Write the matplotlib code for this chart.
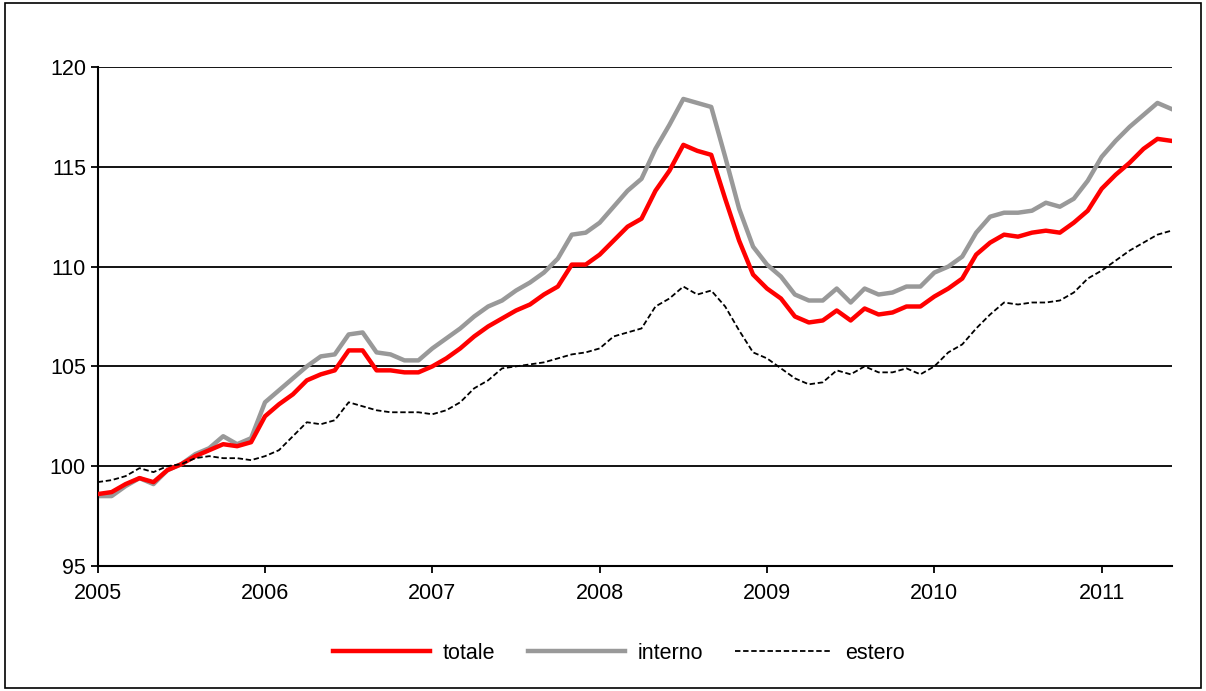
import numpy as np
import matplotlib.pyplot as plt
from matplotlib.patches import Rectangle

plt.rcParams["font.family"] = ["Liberation Sans", "DejaVu Sans"]

totale = [98.6, 98.7, 99.1, 99.4, 99.2, 99.8, 100.1, 100.5, 100.8, 101.1, 101.0, 101.2,
          102.5, 103.1, 103.6, 104.3, 104.6, 104.8, 105.8, 105.8, 104.8, 104.8, 104.7, 104.7,
          105.0, 105.4, 105.9, 106.5, 107.0, 107.4, 107.8, 108.1, 108.6, 109.0, 110.1, 110.1,
          110.6, 111.3, 112.0, 112.4, 113.8, 114.8, 116.1, 115.8, 115.6, 113.4, 111.3, 109.6,
          108.9, 108.4, 107.5, 107.2, 107.3, 107.8, 107.3, 107.9, 107.6, 107.7, 108.0, 108.0,
          108.5, 108.9, 109.4, 110.6, 111.2, 111.6, 111.5, 111.7, 111.8, 111.7, 112.2, 112.8,
          113.9, 114.6, 115.2, 115.9, 116.4, 116.3]
interno = [98.5, 98.5, 99.0, 99.4, 99.1, 99.8, 100.1, 100.6, 100.9, 101.5, 101.1, 101.4,
           103.2, 103.8, 104.4, 105.0, 105.5, 105.6, 106.6, 106.7, 105.7, 105.6, 105.3, 105.3,
           105.9, 106.4, 106.9, 107.5, 108.0, 108.3, 108.8, 109.2, 109.7, 110.4, 111.6, 111.7,
           112.2, 113.0, 113.8, 114.4, 115.9, 117.1, 118.4, 118.2, 118.0, 115.5, 112.9, 111.0,
           110.1, 109.5, 108.6, 108.3, 108.3, 108.9, 108.2, 108.9, 108.6, 108.7, 109.0, 109.0,
           109.7, 110.0, 110.5, 111.7, 112.5, 112.7, 112.7, 112.8, 113.2, 113.0, 113.4, 114.3,
           115.5, 116.3, 117.0, 117.6, 118.2, 117.9]
estero = [99.2, 99.3, 99.5, 99.9, 99.7, 100.0, 100.1, 100.4, 100.5, 100.4, 100.4, 100.3,
          100.5, 100.8, 101.5, 102.2, 102.1, 102.3, 103.2, 103.0, 102.8, 102.7, 102.7, 102.7,
          102.6, 102.8, 103.2, 103.9, 104.3, 104.9, 105.0, 105.1, 105.2, 105.4, 105.6, 105.7,
          105.9, 106.5, 106.7, 106.9, 108.0, 108.4, 109.0, 108.6, 108.8, 108.0, 106.8, 105.7,
          105.4, 104.9, 104.4, 104.1, 104.2, 104.8, 104.6, 105.0, 104.7, 104.7, 104.9, 104.6,
          105.0, 105.7, 106.1, 106.9, 107.6, 108.2, 108.1, 108.2, 108.2, 108.3, 108.7, 109.4,
          109.8, 110.3, 110.8, 111.2, 111.6, 111.8]
years = [2005, 2006, 2007, 2008, 2009, 2010, 2011]

x = 2005 + np.arange(len(totale)) / 12

fig = plt.figure(figsize=(12.06, 6.91), dpi=100)
ax = fig.add_axes([0.081, 0.181, 0.891, 0.722])
fig.patches.append(Rectangle((0.004, 0.004), 0.992, 0.992, transform=fig.transFigure,
                             fill=False, edgecolor="black", linewidth=1.2))

ax.plot(x, totale, color="#ff0000", linewidth=3.2, label="totale", zorder=3)
ax.plot(x, interno, color="#999999", linewidth=3.2, label="interno", zorder=2)
ax.plot(x, estero, color="black", linewidth=1.3, linestyle=(0, (3, 1.5)), label="estero", zorder=4)

ax.set_ylim(95, 120)
ax.set_xlim(2005, x[-1] + 0.005)
ax.set_yticks([95, 100, 105, 110, 115, 120])
ax.set_xticks(years)
ax.yaxis.grid(True, color="black", linewidth=1.3)
ax.set_axisbelow(True)
for s in ["top", "right"]:
    ax.spines[s].set_visible(False)
ax.spines["left"].set_linewidth(1.5)
ax.spines["bottom"].set_linewidth(1.5)
ax.tick_params(labelsize=15.5, length=5, direction="out", width=1.3)
ax.tick_params(axis="x", pad=7)

ax.legend(loc="upper center", bbox_to_anchor=(0.485, -0.115), ncol=3, frameon=False,
          fontsize=15.5, handlelength=4.5, columnspacing=1.5, handletextpad=0.6)

plt.savefig("out.png")
